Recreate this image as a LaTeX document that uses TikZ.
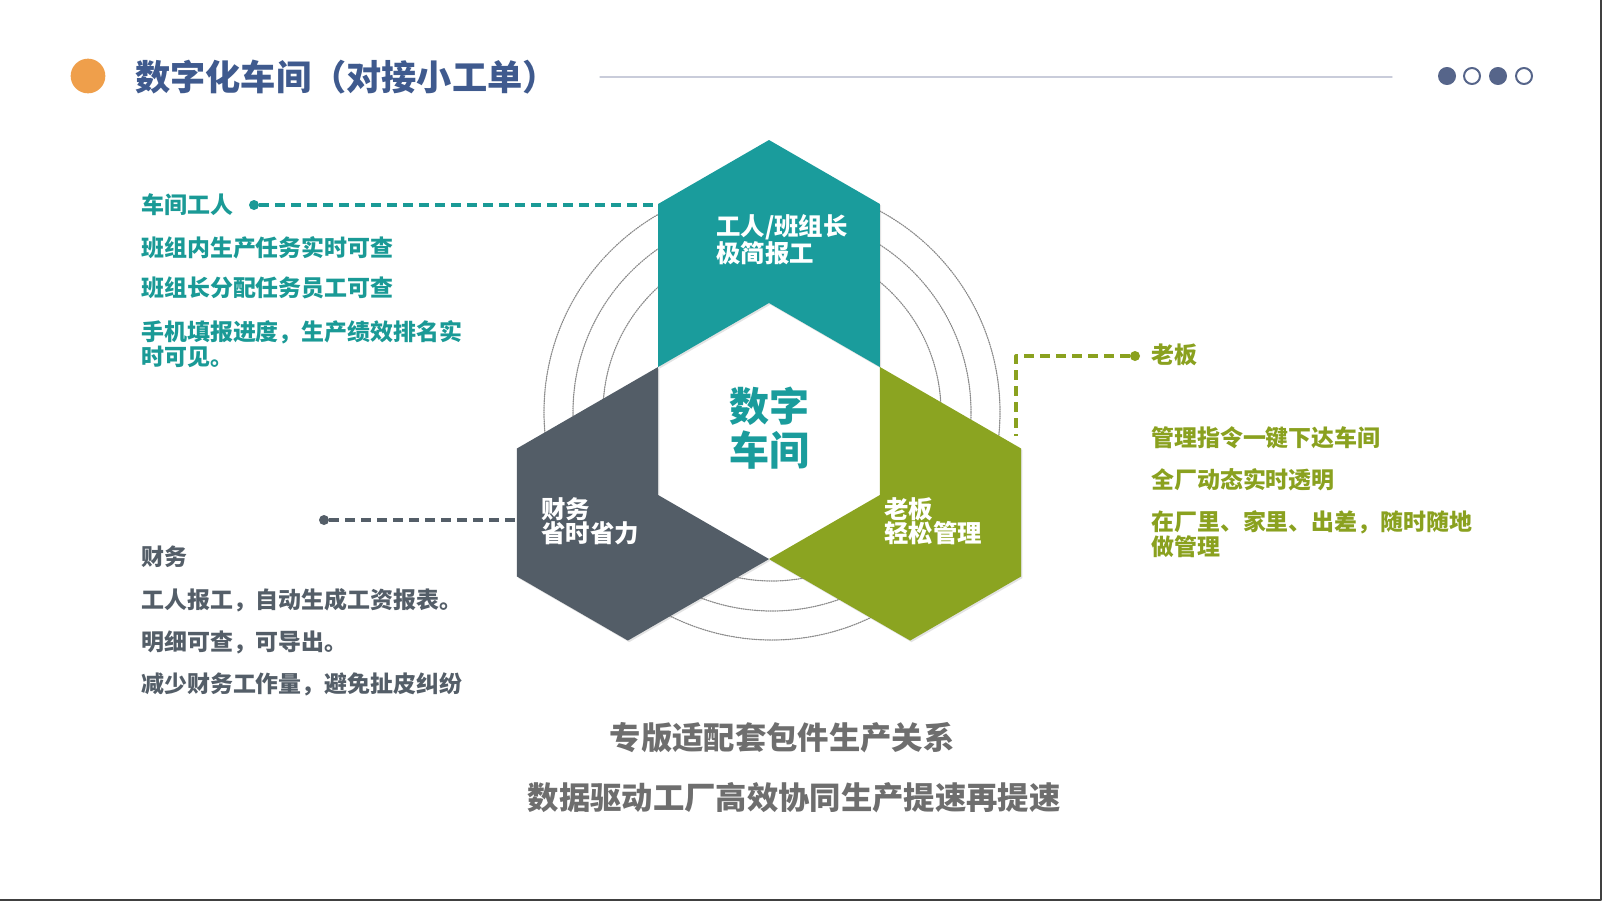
\documentclass[tikz,border=0pt]{standalone}
\usepackage{fontspec}
\setmainfont{Noto Sans CJK SC}
\usetikzlibrary{calc, shadows}

\definecolor{tealhex}{HTML}{1A9C9C}
\definecolor{grayhex}{HTML}{535D67}
\definecolor{greenhex}{HTML}{8BA421}
\definecolor{titleblue}{HTML}{3F5A8E}
\definecolor{dotblue}{HTML}{56658A}
\definecolor{orangedot}{HTML}{EF9F4B}
\definecolor{rulegray}{HTML}{C9CCDA}
\definecolor{subgray}{HTML}{6E6E6E}
\definecolor{tealtext}{HTML}{1A9A96}
\definecolor{graytext}{HTML}{545E68}
\definecolor{greentext}{HTML}{8AA11F}

\begin{document}
\begin{tikzpicture}[x=0.75pt, y=-0.75pt, line cap=round, line join=round]
		
		% ================= 1. 样式 =================
		\tikzset{
			piece/.style={fill=#1, drop shadow={shadow xshift=1pt, shadow yshift=-1.2pt, opacity=0.22}},
			ring/.style={gray!90, line width=0.9pt, dash pattern=on 0.8pt off 0.9pt},
			link/.style={draw=#1, line width=2.5pt, line cap=butt, dash pattern=on 7pt off 5pt},
			enddot/.style={circle, fill=#1, inner sep=0pt, minimum size=7.5pt},
			item/.style={anchor=west, inner sep=0pt, text=#1, align=left,
				font=\bfseries\fontsize{17.2}{18.8}\selectfont},
			hexlabel/.style={anchor=west, inner sep=0pt, text=white, align=left,
				font=\bfseries\fontsize{18.3}{18.3}\selectfont},
			pagedot/.style={circle, draw=dotblue, line width=1.5pt, minimum size=12pt, inner sep=0pt}
		}
		
		% ================= 2. 画布与边框 =================
		\fill[white] (0,0) rectangle (1602,901);
		\useasboundingbox (0,0) rectangle (1602,901);
		\draw[black!75, line width=1.6pt] (1601,0) -- (1601,900) -- (0,900);
		
		% ================= 3. 标题栏 =================
		\node[circle, fill=orangedot, minimum size=26pt, inner sep=0pt] (title-dot) at (88,76) {};
		\node[anchor=west, inner sep=0pt, text=titleblue, font=\bfseries\fontsize{26.4}{30}\selectfont]
		(title) at (135,77) {数字化车间（对接小工单）};
		\draw[rulegray, line width=1pt] (600,77) -- (1392,77);
		\foreach \i/\x/\f in {1/1447/dotblue, 2/1472/white, 3/1498/dotblue, 4/1524/white}
		\node[pagedot, fill=\f] (page-\i) at (\x,76) {};
		
		% ================= 4. 虚线同心圆 =================
		\draw[ring] (772,412) circle[radius=171pt];
		\draw[ring] (772,412) circle[radius=149.25pt];
		\draw[ring] (772,412) circle[radius=126.75pt];
		
		% ================= 5. 三块六边形 =================
		\foreach \ang/\col/\nm in {0/tealhex/teal, 120/grayhex/gray, -120/greenhex/green}{
			\begin{scope}[shift={(769,431)}, rotate=\ang]
				\fill[piece=\col] (-110.9,-64) coordinate (\nm-a)
				-- (-110.9,-227) coordinate (\nm-b)
				-- (0,-291) coordinate (\nm-c)
				-- (110.9,-227) coordinate (\nm-d)
				-- (110.9,-64) coordinate (\nm-e)
				-- (0,-128) coordinate (\nm-f) -- cycle;
			\end{scope}
		}
		
		% 六边形内文字
		\node[text=tealhex, align=center, inner sep=0pt, font=\bfseries\fontsize{30}{33}\selectfont]
		(center) at (769,428) {数字\\车间};
		\node[hexlabel] (teal-label) at (716,240) {工人/班组长\\极简报工};
		\node[hexlabel] (gray-label) at (541,521) {财务\\省时省力};
		\node[hexlabel] (green-label) at (884,521) {老板\\轻松管理};
		
		% ================= 6. 车间工人 =================
		\node[item=tealtext] (gongren) at (141,205) {车间工人};
		\node[enddot=tealtext] (gongren-dot) at (254,205) {};
		\node[item=tealtext] (gongren-1) at (141,248) {班组内生产任务实时可查};
		\node[item=tealtext] (gongren-2) at (141,288) {班组长分配任务员工可查};
		\node[item=tealtext] (gongren-3) at (141,344.5) {手机填报进度，生产绩效排名实\\时可见。};
		\draw[link=tealtext] (gongren-dot) -- (gongren-dot -| teal-b);
		
		% ================= 7. 财务 =================
		\node[enddot=graytext] (caiwu-dot) at (324,520) {};
		\node[item=graytext] (caiwu) at (141,557) {财务};
		\node[item=graytext] (caiwu-1) at (141,600) {工人报工，自动生成工资报表。};
		\node[item=graytext] (caiwu-2) at (141,642) {明细可查，可导出。};
		\node[item=graytext] (caiwu-3) at (141,684) {减少财务工作量，避免扯皮纠纷};
		\draw[link=graytext] (caiwu-dot) -- (caiwu-dot -| gray-c);
		
		% ================= 8. 老板 =================
		\node[enddot=greentext] (laoban-dot) at (1135,356) {};
		\node[item=greentext] (laoban) at (1151,355) {老板};
		\node[item=greentext] (laoban-1) at (1151,438) {管理指令一键下达车间};
		\node[item=greentext] (laoban-2) at (1151,480) {全厂动态实时透明};
		\node[item=greentext] (laoban-3) at (1151,534) {在厂里、家里、出差，随时随地\\做管理};
		\coordinate (laoban-end) at ($(green-b)+(-5,-12)$);
		\draw[link=greentext] (laoban-dot) -| (laoban-end);
		
		% ================= 9. 底部标语 =================
		\node[text=subgray, font=\bfseries\fontsize{23.5}{26}\selectfont] (slogan-1) at (782,738)
		{专版适配套包件生产关系};
		\node[text=subgray, font=\bfseries\fontsize{23.5}{26}\selectfont] (slogan-2) at (794,798)
		{数据驱动工厂高效协同生产提速再提速};
		
	\end{tikzpicture}
\end{document}
